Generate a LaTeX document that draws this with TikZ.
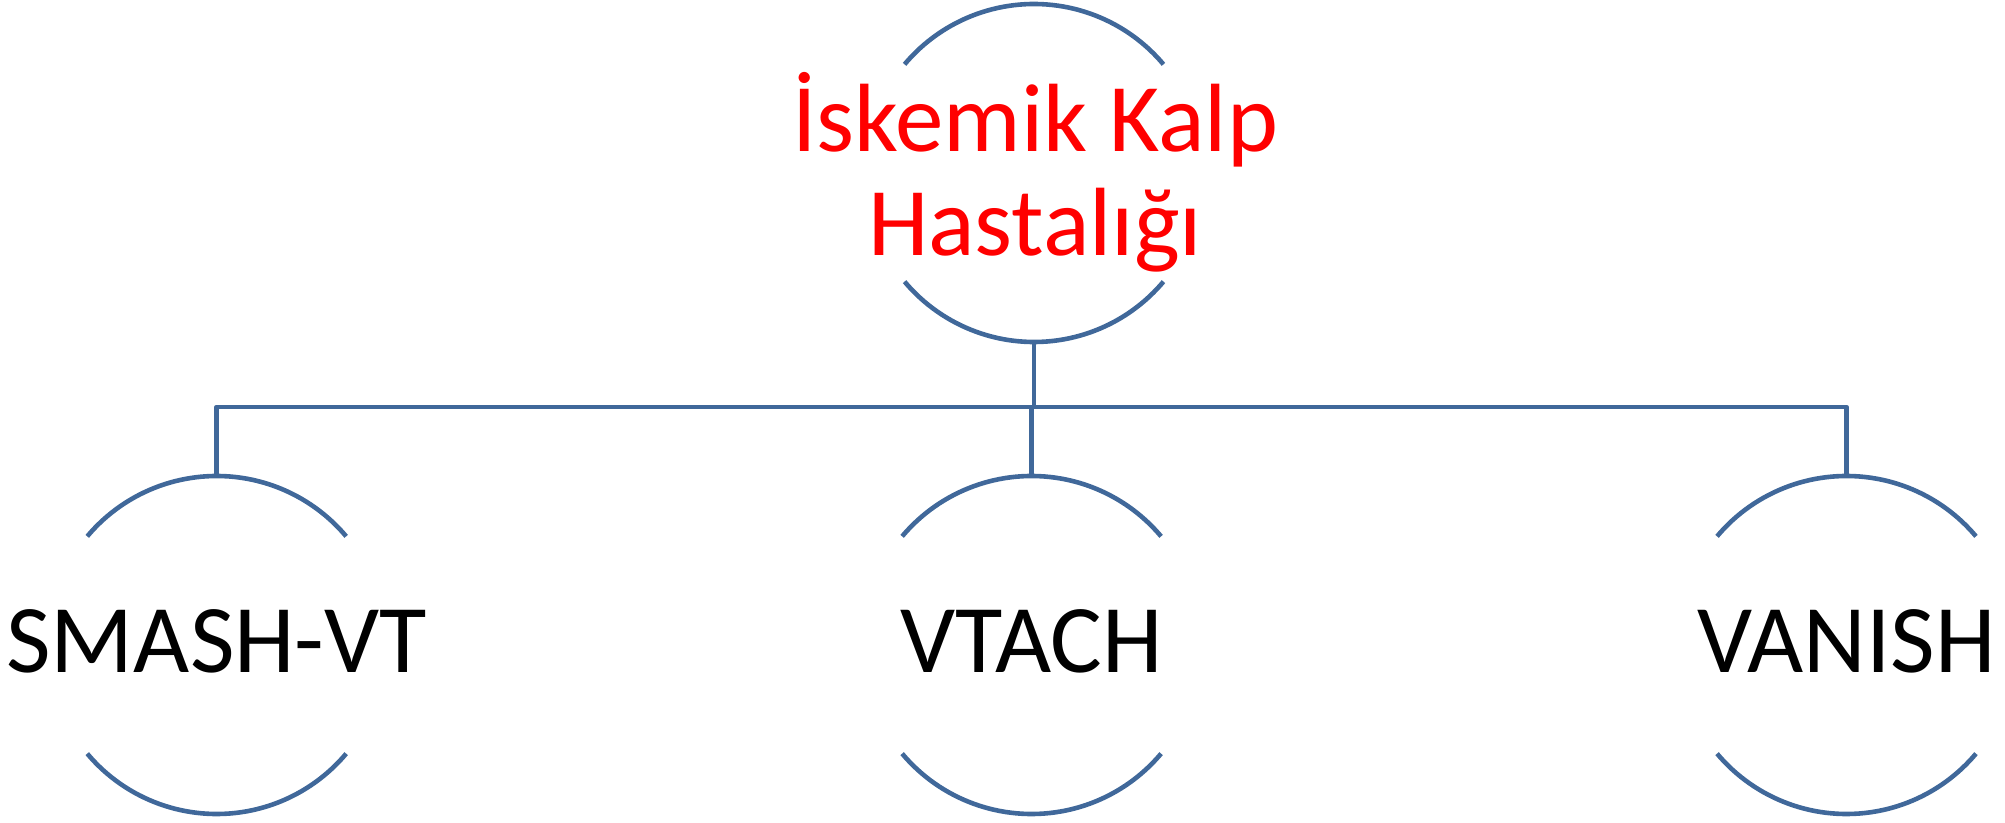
\documentclass[tikz,border=0pt]{standalone}
\usepackage{fontspec}
\setmainfont{Carlito}
\definecolor{linkblue}{RGB}{64,104,154}
\definecolor{titlered}{RGB}{255,0,0}
\begin{document}
\begin{tikzpicture}[x=1pt,y=1pt,
  ring/.style={circle,draw=none,inner sep=0pt,outer sep=0pt,minimum size=338pt},
  rim/.style={draw=linkblue,line width=4.6pt},
  conn/.style={draw=linkblue,line width=4.6pt,line join=round},
  bigtext/.style={font=\fontsize{97}{104}\selectfont,inner sep=0pt,align=center}]
\useasboundingbox (0,0) rectangle (2005,822);

% circles (only their top and bottom arcs are drawn)
\node[ring] (root)   at (1034,649) {};
\node[ring] (smash)  at (216.7,177) {};
\node[ring] (vtach)  at (1031.6,177) {};
\node[ring] (vanish) at (1846.5,177) {};

\foreach \n in {root,smash,vtach,vanish}{
  \draw[rim] (\n.140) arc[start angle=140,end angle=40,radius=169pt];
  \draw[rim] (\n.220) arc[start angle=220,end angle=320,radius=169pt];
}

% labels
\node[bigtext,text=titlered,anchor=center] (rootlabel) at (1035,650) {İskemik Kalp\\Hastalığı};
\node[bigtext,anchor=base] (smashlabel)  at (216.7,149.3) {SMASH-VT};
\node[bigtext,anchor=base] (vtachlabel)  at (1031.6,149.3) {VTACH};
\node[bigtext,anchor=base] (vanishlabel) at (1846.5,149.3) {VANISH};

% connectors
\coordinate (bus) at (0,415);
\draw[conn] (root.south) -- (root.south |- bus);
\draw[conn] (smash.north) -- (smash.north |- bus) -| (vanish.north);
\draw[conn] (vtach.north) -- (vtach.north |- bus);
\end{tikzpicture}
\end{document}
